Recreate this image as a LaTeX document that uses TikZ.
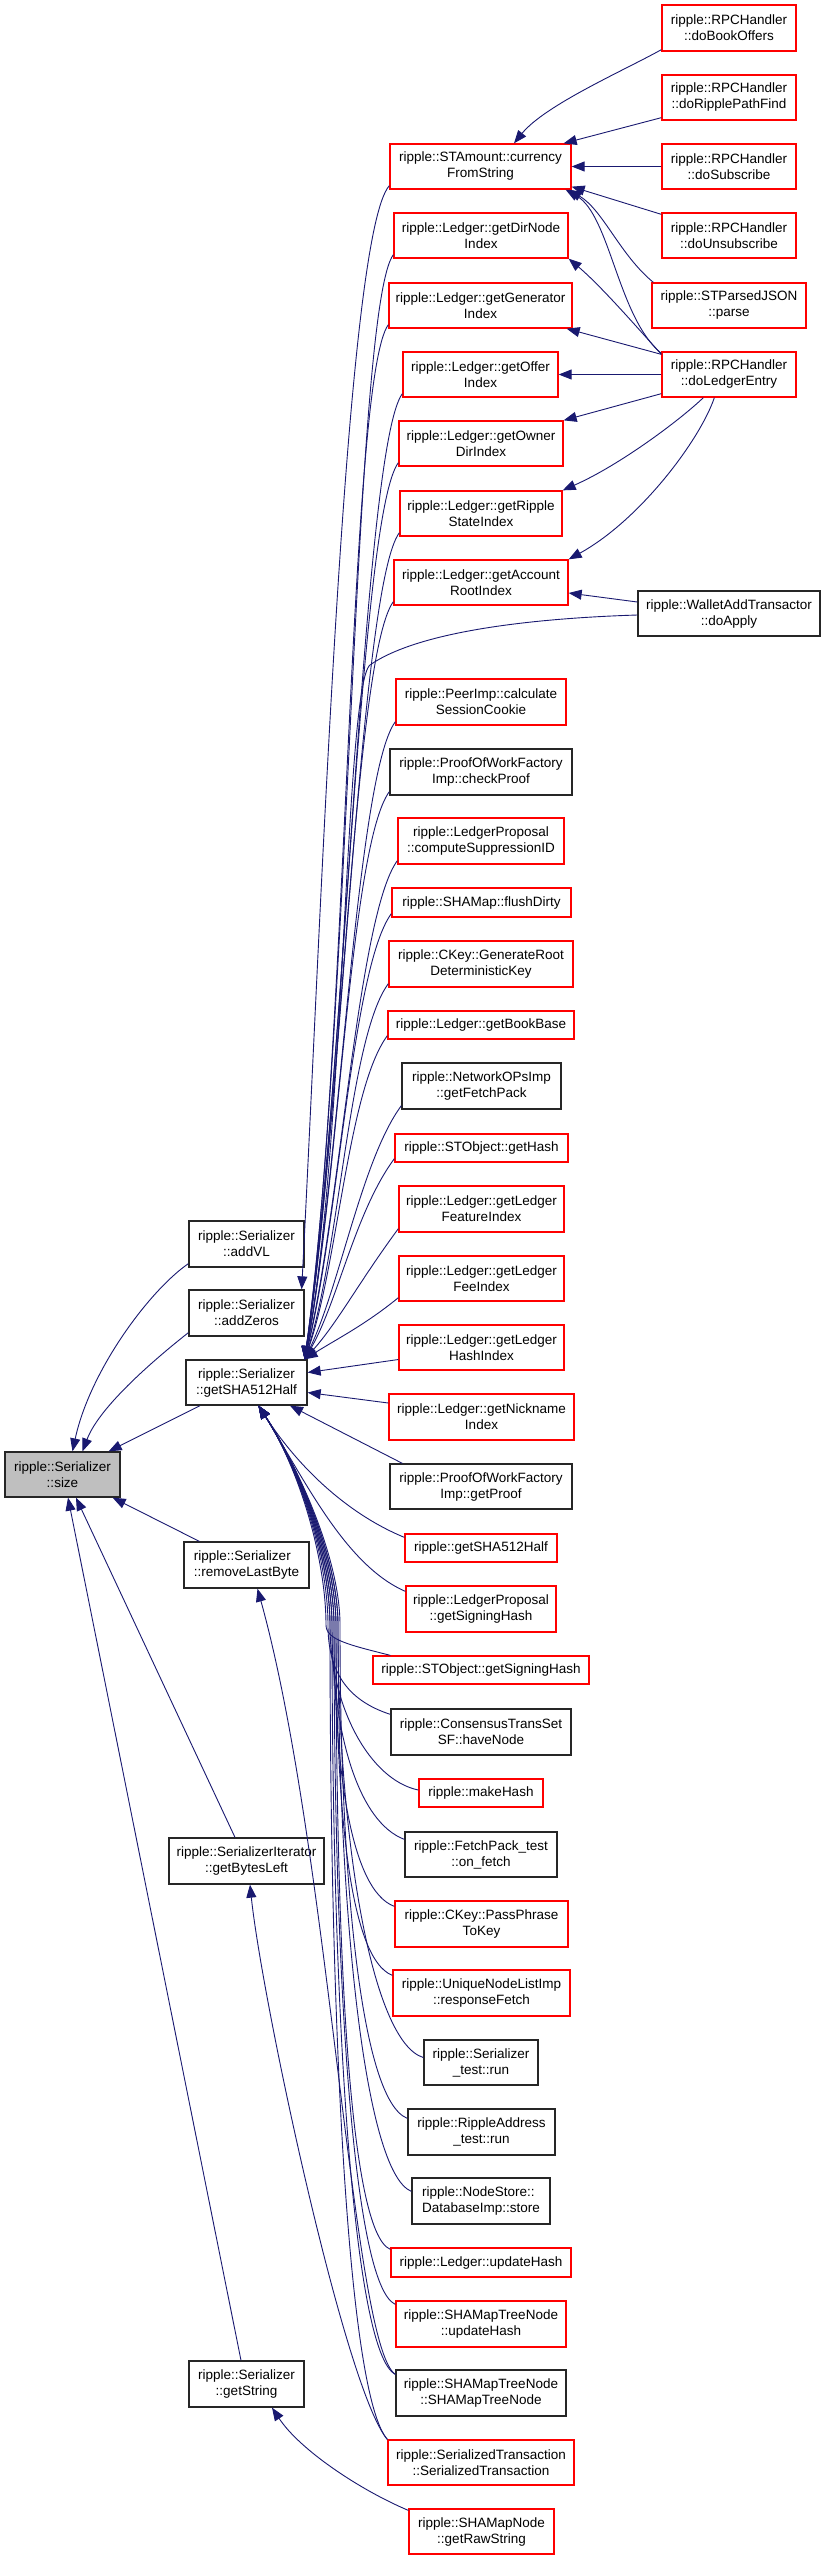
\documentclass[tikz,border=0pt]{standalone}
\usepackage{fontspec}
\setmainfont{Liberation Sans}
\usetikzlibrary{arrows.meta,calc}
\definecolor{edgec}{HTML}{191970}
\definecolor{redb}{HTML}{FF0000}
\definecolor{grayf}{HTML}{BFBFBF}
\tikzset{
  box/.style={draw, line width=1.3pt, fill=white, inner sep=0pt, align=center},
  rb/.style={box, draw=redb},
  kb/.style={box, draw=black!85},
  edge/.style={draw=edgec, line width=0.9pt, -{Triangle[length=13pt,width=10pt]}},
}
\newcommand\nd[7]{\node[#1, minimum width=#4pt, minimum height=#5pt] (#2) at (#3) {#6};}
\begin{document}
\begin{tikzpicture}[x=1pt, y=-1pt, font=\fontsize{13.5}{16}\selectfont]
\useasboundingbox (0,0) rectangle (827,2560);
% column 4
\nd{rb}{bo}{729,28}{134}{46}{ripple::RPCHandler\\::doBookOffers}{}
\nd{rb}{rpf}{729,97.5}{134}{45}{ripple::RPCHandler\\::doRipplePathFind}{}
\nd{rb}{sub}{729,166.5}{134}{45}{ripple::RPCHandler\\::doSubscribe}{}
\nd{rb}{unsub}{729,235.5}{134}{45}{ripple::RPCHandler\\::doUnsubscribe}{}
\nd{rb}{parse}{729,305.5}{154}{45}{ripple::STParsedJSON\\::parse}{}
\nd{rb}{dle}{729,374.5}{134}{45}{ripple::RPCHandler\\::doLedgerEntry}{}
\nd{kb}{wat}{729,613.5}{182}{45}{ripple::WalletAddTransactor\\::doApply}{}
% column 3
\nd{rb}{cfs}{480.5,166.5}{181}{45}{ripple::STAmount::currency\\FromString}{}
\nd{rb}{dirnode}{481,235.5}{174}{45}{ripple::Ledger::getDirNode\\Index}{}
\nd{rb}{gen}{480.5,305.5}{183}{45}{ripple::Ledger::getGenerator\\Index}{}
\nd{rb}{offer}{480.5,374.5}{155}{45}{ripple::Ledger::getOffer\\Index}{}
\nd{rb}{owner}{481,443.5}{164}{45}{ripple::Ledger::getOwner\\DirIndex}{}
\nd{rb}{rstate}{481,513.5}{162}{45}{ripple::Ledger::getRipple\\StateIndex}{}
\nd{rb}{acct}{481,582.5}{174}{45}{ripple::Ledger::getAccount\\RootIndex}{}
\nd{rb}{cookie}{481,702}{170}{46}{ripple::PeerImp::calculate\\SessionCookie}{}
\nd{kb}{checkproof}{481,772}{182}{46}{ripple::ProofOfWorkFactory\\Imp::checkProof}{}
\nd{rb}{csid}{481,841}{166}{46}{ripple::LedgerProposal\\::computeSuppressionID}{}
\nd{rb}{flush}{481.5,902.5}{179}{29}{ripple::SHAMap::flushDirty}{}
\nd{rb}{genroot}{481,964}{184}{46}{ripple::CKey::GenerateRoot\\DeterministicKey}{}
\nd{rb}{bookbase}{481,1025}{186}{28}{ripple::Ledger::getBookBase}{}
\nd{kb}{fetchpack}{481.5,1086}{159}{46}{ripple::NetworkOPsImp\\::getFetchPack}{}
\nd{rb}{gethash}{481.5,1148}{173}{28}{ripple::STObject::getHash}{}
\nd{rb}{feature}{481.5,1209}{165}{46}{ripple::Ledger::getLedger\\FeatureIndex}{}
\nd{rb}{fee}{481.5,1278.5}{165}{45}{ripple::Ledger::getLedger\\FeeIndex}{}
\nd{rb}{hashidx}{481.5,1347.5}{165}{45}{ripple::Ledger::getLedger\\HashIndex}{}
\nd{rb}{nick}{481.5,1417}{185}{46}{ripple::Ledger::getNickname\\Index}{}
\nd{kb}{getproof}{481,1486.5}{182}{45}{ripple::ProofOfWorkFactory\\Imp::getProof}{}
\nd{rb}{sha}{481,1548}{152}{28}{ripple::getSHA512Half}{}
\nd{rb}{lpsig}{481,1609}{150}{46}{ripple::LedgerProposal\\::getSigningHash}{}
\nd{rb}{stsig}{481,1670}{216}{28}{ripple::STObject::getSigningHash}{}
\nd{kb}{cts}{481,1732}{180}{46}{ripple::ConsensusTransSet\\SF::haveNode}{}
\nd{rb}{makehash}{481,1793}{124}{28}{ripple::makeHash}{}
\nd{kb}{onfetch}{481,1854.5}{152}{45}{ripple::FetchPack\_test\\::on\_fetch}{}
\nd{rb}{ppk}{481.5,1924}{173}{46}{ripple::CKey::PassPhrase\\ToKey}{}
\nd{rb}{respf}{481.5,1993}{177}{46}{ripple::UniqueNodeListImp\\::responseFetch}{}
\nd{kb}{sertest}{481,2062.5}{114}{45}{ripple::Serializer\\\_test::run}{}
\nd{kb}{ratest}{481.5,2132}{147}{46}{ripple::RippleAddress\\\_test::run}{}
\nd{kb,align=left}{store}{481,2201}{138}{46}{ripple::NodeStore::\\DatabaseImp::store}{}
\nd{rb}{updhash}{481,2262.5}{180}{29}{ripple::Ledger::updateHash}{}
\nd{rb}{tnupd}{481,2324}{170}{46}{ripple::SHAMapTreeNode\\::updateHash}{}
\nd{kb}{tntn}{481,2393}{170}{46}{ripple::SHAMapTreeNode\\::SHAMapTreeNode}{}
\nd{rb}{sertx}{481,2462.5}{186}{45}{ripple::SerializedTransaction\\::SerializedTransaction}{}
\nd{rb}{rawstr}{481.5,2531.5}{145}{45}{ripple::SHAMapNode\\::getRawString}{}
% column 2
\nd{kb}{addvl}{246.5,1244}{115}{46}{ripple::Serializer\\::addVL}{}
\nd{kb}{addzeros}{246.5,1313}{115}{46}{ripple::Serializer\\::addZeros}{}
\nd{kb}{ssha}{246.5,1382.5}{121}{45}{ripple::Serializer\\::getSHA512Half}{}
\nd{kb,align=left}{rlb}{246.5,1565}{125}{46}{ripple::Serializer\\::removeLastByte}{}
\nd{kb}{gbl}{246.5,1861}{155}{46}{ripple::SerializerIterator\\::getBytesLeft}{}
\nd{kb}{gstr}{246.5,2384}{115}{46}{ripple::Serializer\\::getString}{}
% column 1
\nd{kb,fill=grayf}{size}{62.5,1474.5}{115}{45}{ripple::Serializer\\::size}{}

\coordinate (sshaT) at ([xshift=-3pt]ssha.north east);
\coordinate (sshaB) at ([xshift=12pt]ssha.south);

% top cluster
\draw[edge] ([yshift=2pt]bo.south west) .. controls (625,70) and (545,105) .. ([xshift=33.5pt]cfs.north);
\draw[edge] ([yshift=3pt]rpf.south west) -- ([xshift=-8pt]cfs.north east);
\draw[edge] (sub.west) -- (cfs.east);
\draw[edge] ([yshift=-2pt]unsub.north west) -- ([yshift=3pt]cfs.south east);
\draw[edge] ([xshift=2pt]parse.north west) .. controls (620,255) and (603,210) .. ([xshift=-3pt]cfs.south east);
\draw[edge] ([yshift=-2pt]dle.north west) .. controls (618,318) and (610,215) .. ([xshift=-6pt]cfs.south east);
\draw[edge] ([yshift=-3pt]dle.north west) .. controls (635,325) and (600,285) .. (dirnode.south east);
\draw[edge] ([yshift=-3pt]dle.north west) -- ([xshift=-6pt]gen.south east);
\draw[edge] (dle.west) -- (offer.east);
\draw[edge] ([yshift=4pt]dle.south west) -- (owner.north east);
\draw[edge] ([xshift=42pt]dle.south west) .. controls (680,420) and (620,465) .. (rstate.north east);
\draw[edge] ([xshift=53pt]dle.south west) .. controls (700,440) and (640,520) .. (acct.north east);
\draw[edge] ([yshift=11.5pt]wat.west) -- ([yshift=-10.5pt]acct.east);

% to addZeros
\draw[edge] ([yshift=4pt]cfs.south west) .. controls (345,235) and (322,900) .. ([xshift=-3pt]addzeros.north east);

% top bundle to Serializer::getSHA512Half
\draw[edge] ([yshift=4pt]dirnode.south west) .. controls (354,308) and (350,1029) .. (sshaT);
\draw[edge] ([yshift=4pt]gen.south west) .. controls (349,378) and (348,1050) .. (sshaT);
\draw[edge] ([yshift=4pt]offer.south west) .. controls (363,447) and (346,1071) .. (sshaT);
\draw[edge] ([yshift=4pt]owner.south west) .. controls (359,516) and (344,1092) .. (sshaT);
\draw[edge] ([yshift=4pt]rstate.south west) .. controls (360,586) and (342,1113) .. (sshaT);
\draw[edge] ([yshift=4pt]acct.south west) .. controls (354,655) and (340,1134) .. (sshaT);
\draw[edge] ([yshift=-1.5pt]wat.west) .. controls (540,618) and (420,630) .. (370,665) .. controls (345,685) and (345,1150) .. (sshaT);
\draw[edge] ([yshift=4pt]cookie.south west) .. controls (356,775) and (340,1170) .. (sshaT);
\draw[edge] ([yshift=4pt]checkproof.south west) .. controls (350,845) and (338,1190) .. (sshaT);
\draw[edge] ([yshift=4pt]csid.south west) .. controls (358,914) and (340,1211) .. (sshaT);
\draw[edge] ([yshift=4pt]flush.south west) .. controls (352,967) and (338,1227) .. (sshaT);
\draw[edge] ([yshift=4pt]genroot.south west) .. controls (349,1037) and (340,1248) .. (sshaT);
\draw[edge] ([yshift=4pt]bookbase.south west) .. controls (348,1089) and (338,1264) .. (sshaT);
\draw[edge] ([yshift=4pt]fetchpack.south west) .. controls (362,1159) and (340,1285) .. (sshaT);
\draw[edge] ([yshift=4pt]gethash.south west) .. controls (355,1212) and (338,1301) .. (sshaT);
\draw[edge] ([yshift=4pt]feature.south west) .. controls (359,1282) and (338,1322) .. (sshaT);
\draw[edge] ([yshift=4pt]fee.south west) .. controls (365,1325) and (335,1340) .. (sshaT);
\draw[edge] ([yshift=-12pt]hashidx.west) -- ([yshift=10pt]ssha.east);
\draw[edge] ([yshift=14pt]nick.west) -- ([yshift=-10pt]ssha.east);
\draw[edge] ([xshift=13pt]getproof.north west) -- ([xshift=43.5pt]ssha.south);

% bottom bundle to Serializer::getSHA512Half
\draw[edge] ([yshift=-4pt]sha.north west) .. controls (350,1515) and (300,1470) .. (sshaB);
\draw[edge] ([yshift=-6pt]lpsig.north west) .. controls (345,1565) and (305,1480) .. (sshaB);
\draw[edge] ([xshift=18pt]stsig.north west) .. controls (350,1645) and (326,1640) .. (326,1625) .. controls (326,1560) and (300,1470) .. (sshaB);
\draw[edge] ([yshift=-6pt]cts.north west) .. controls (346,1700) and (328,1670) .. (328,1625) .. controls (328,1560) and (300,1470) .. (sshaB);
\draw[edge] ([yshift=3pt]makehash.west) .. controls (370,1780) and (330,1707) .. (330,1625) .. controls (330,1560) and (300,1470) .. (sshaB);
\draw[edge] ([yshift=-8pt]onfetch.north west) .. controls (358,1822) and (332,1732) .. (332,1625) .. controls (332,1560) and (300,1470) .. (sshaB);
\draw[edge] ([yshift=-6pt]ppk.north west) .. controls (350,1890) and (334,1766) .. (334,1625) .. controls (334,1560) and (300,1470) .. (sshaB);
\draw[edge] ([yshift=-6pt]respf.north west) .. controls (348,1958) and (336,1800) .. (336,1625) .. controls (336,1560) and (300,1470) .. (sshaB);
\draw[edge] ([yshift=5pt]sertest.west) .. controls (372,2042) and (338,1841) .. (338,1625) .. controls (338,1560) and (300,1470) .. (sshaB);
\draw[edge] ([yshift=-10pt]ratest.north west) .. controls (360,2100) and (340,1872) .. (340,1625) .. controls (340,1560) and (300,1470) .. (sshaB);
\draw[edge] ([yshift=-14pt]store.north west) .. controls (364,2172) and (338,1908) .. (338,1625) .. controls (338,1560) and (300,1470) .. (sshaB);
\draw[edge] ([yshift=-2pt]updhash.north west) .. controls (348,2232) and (336,1937) .. (336,1625) .. controls (336,1560) and (300,1470) .. (sshaB);
\draw[edge] ([yshift=-4pt]tnupd.north west) .. controls (352,2285) and (334,1965) .. (334,1625) .. controls (334,1560) and (300,1470) .. (sshaB);
\draw[edge] ([yshift=-5pt]tntn.north west) .. controls (352,2352) and (332,2000) .. (332,1625) .. controls (332,1560) and (300,1470) .. (sshaB);
\draw[edge] (sertx.north west) .. controls (348,2395) and (330,2032) .. (330,1625) .. controls (330,1560) and (300,1470) .. (sshaB);

% other column-2 callees
\draw[edge] ([yshift=-5pt]tntn.north west) .. controls (352,2345) and (330,1850) .. ([xshift=11pt]rlb.south);
\draw[edge] (sertx.north west) .. controls (345,2390) and (262,2000) .. ([xshift=3.5pt]gbl.south);
\draw[edge] ([yshift=-2pt]rawstr.north west) .. controls (360,2490) and (300,2450) .. ([xshift=25.5pt]gstr.south);

% to Serializer::size
\draw[edge] ([yshift=4pt]addvl.south west) .. controls (150,1290) and (90,1370) .. ([xshift=10pt]size.north);
\draw[edge] ([yshift=4pt]addzeros.south west) .. controls (160,1355) and (100,1405) .. ([xshift=20pt]size.north);
\draw[edge] ([xshift=-46.5pt]ssha.south) -- ([xshift=-12pt]size.north east);
\draw[edge] ([xshift=16pt]rlb.north west) -- ([xshift=-8pt]size.south east);
\draw[edge] ([xshift=-11.5pt]gbl.north) -- ([xshift=13.5pt]size.south);
\draw[edge] ([xshift=-5.5pt]gstr.north) -- ([xshift=5.5pt]size.south);
\end{tikzpicture}
\end{document}
